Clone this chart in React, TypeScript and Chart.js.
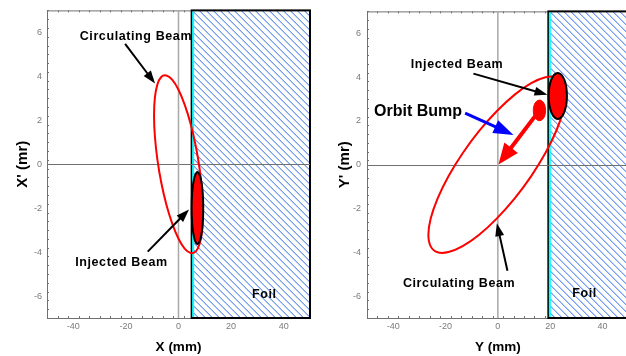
import React, { useEffect, useRef } from "react";
import { Chart, registerables } from "chart.js";

Chart.register(...registerables);

const FONT = "'Liberation Sans', Arial, Helvetica, sans-serif";

// ---- axes ----
const xTickValues = [-40, -20, 0, 20, 40];
const yTickValues = [-6, -4, -2, 0, 2, 4, 6];
const xRange = [-50, 50];
const yRange = [-7, 7];

// ---- left panel: horizontal plane (X, X') ----
const xCircX = [9.30, 8.98, 8.05, 6.58, 4.65, 2.41, 0.00, -2.41, -4.65, -6.58, -8.05, -8.98, -9.30, -8.98, -8.05, -6.58, -4.65, -2.41, 0.00, 2.41, 4.65, 6.58, 8.05, 8.98, 9.30];
const xCircY = [-2.22, -3.03, -3.62, -3.97, -4.04, -3.85, -3.39, -2.69, -1.82, -0.82, 0.23, 1.27, 2.22, 3.03, 3.62, 3.97, 4.04, 3.85, 3.39, 2.69, 1.82, 0.82, -0.23, -1.27, -2.22];
const xInjX = [9.40, 9.33, 9.11, 8.76, 8.30, 7.77, 7.20, 6.63, 6.10, 5.64, 5.29, 5.07, 5.00, 5.07, 5.29, 5.64, 6.10, 6.63, 7.20, 7.77, 8.30, 8.76, 9.11, 9.33, 9.40];
const xInjY = [-2.00, -1.58, -1.18, -0.84, -0.58, -0.42, -0.36, -0.42, -0.58, -0.84, -1.18, -1.58, -2.00, -2.42, -2.82, -3.16, -3.42, -3.58, -3.64, -3.58, -3.42, -3.16, -2.82, -2.42, -2.00];
const xFoil = [5, 50];

// ---- right panel: vertical plane (Y, Y') ----
const yCircX = [25.85, 24.96, 22.34, 18.17, 12.75, 6.44, -0.35, -7.14, -13.45, -18.87, -23.04, -25.66, -26.55, -25.66, -23.04, -18.87, -13.45, -7.14, -0.35, 6.44, 12.75, 18.17, 22.34, 24.96, 25.85];
const yCircY = [3.20, 2.46, 1.55, 0.53, -0.52, -1.54, -2.45, -3.20, -3.72, -3.99, -4.00, -3.73, -3.20, -2.46, -1.55, -0.53, 0.52, 1.54, 2.45, 3.20, 3.72, 3.99, 4.00, 3.73, 3.20];
const yInjX = [26.40, 26.28, 25.93, 25.37, 24.65, 23.81, 22.90, 21.99, 21.15, 20.43, 19.87, 19.52, 19.40, 19.52, 19.87, 20.43, 21.15, 21.99, 22.90, 23.81, 24.65, 25.37, 25.93, 26.28, 26.40];
const yInjY = [3.14, 3.41, 3.67, 3.88, 4.05, 4.15, 4.19, 4.15, 4.05, 3.88, 3.67, 3.41, 3.14, 2.87, 2.62, 2.40, 2.23, 2.13, 2.09, 2.13, 2.23, 2.40, 2.62, 2.87, 3.14];
const bumpX = [18.25, 17.94, 17.08, 15.90, 14.73, 13.86, 13.55, 13.86, 14.73, 15.90, 17.08, 17.94, 18.25];
const bumpY = [2.48, 2.72, 2.89, 2.95, 2.89, 2.72, 2.48, 2.24, 2.07, 2.01, 2.07, 2.24, 2.48];
const yFoil = [19.3, 50];

// ---- annotations (data coordinates) ----
const xLabels = [
  { text: "Circulating Beam", at: [-16.2, 5.83], kind: "note" },
  { text: "Injected Beam", at: [-21.7, -4.47], kind: "note" },
  { text: "Foil", at: [32.6, -5.92], kind: "note" },
];
const xArrows = [
  { from: [-20.3, 5.48], to: [-8.9, 3.67], kind: "black" },
  { from: [-11.7, -3.98], to: [4.0, -2.06], kind: "black" },
];
const yLabels = [
  { text: "Injected Beam", at: [-15.6, 4.58], kind: "note" },
  { text: "Orbit Bump", at: [-30.5, 2.44], kind: "big" },
  { text: "Circulating Beam", at: [-14.8, -5.41], kind: "note" },
  { text: "Foil", at: [33.1, -5.89], kind: "note" },
];
const yArrows = [
  { from: [-9.33, 4.16], to: [18.97, 3.19], kind: "black" },
  { from: [-12.5, 2.36], to: [5.97, 1.36], kind: "blue" },
  { from: [15.9, 2.48], to: [0.23, 0.01], kind: "red" },
  { from: [3.67, -4.84], to: [-0.38, -2.67], kind: "black" },
];

// ---- styles ----
const labelStyles: Record<string, { size: number; spacing: number }> = {
  note: { size: 12.5, spacing: 0.6 },
  big: { size: 16, spacing: 0 },
};
const arrowStyles: Record<string, { color: string; width: number; head: number; headW: number }> = {
  black: { color: "#000000", width: 2, head: 13, headW: 9 },
  blue: { color: "#0000ff", width: 3, head: 20, headW: 14 },
  red: { color: "#ff0000", width: 4, head: 21, headW: 17 },
};

const pts = (xs: number[], ys: number[]) => xs.map((x, i) => ({ x, y: ys[i] }));

function drawArrow(ctx: CanvasRenderingContext2D, x1: number, y1: number, x2: number, y2: number, st: any) {
  const dx = x2 - x1, dy = y2 - y1;
  const L = Math.hypot(dx, dy);
  const ux = dx / L, uy = dy / L;
  const bx = x2 - ux * st.head, by = y2 - uy * st.head;
  ctx.strokeStyle = st.color;
  ctx.lineWidth = st.width;
  ctx.lineCap = "butt";
  ctx.beginPath();
  ctx.moveTo(x1, y1);
  ctx.lineTo(bx + ux, by + uy);
  ctx.stroke();
  ctx.fillStyle = st.color;
  ctx.beginPath();
  ctx.moveTo(x2, y2);
  ctx.lineTo(bx - (uy * st.headW) / 2, by + (ux * st.headW) / 2);
  ctx.lineTo(bx + (uy * st.headW) / 2, by - (ux * st.headW) / 2);
  ctx.closePath();
  ctx.fill();
}

function panelPlugin(p: any) {
  return {
    id: "panelDecor",
    beforeDatasetsDraw(chart: any) {
      const { ctx, chartArea: a, scales } = chart;
      const xs = scales.x, ys = scales.y;
      ctx.save();
      // frame
      ctx.strokeStyle = "#707070";
      ctx.lineWidth = 1;
      ctx.beginPath();
      ctx.moveTo(a.left + 0.5, a.top + 0.5);
      ctx.lineTo(a.left + 0.5, a.bottom + 0.5);
      ctx.lineTo(a.right, a.bottom + 0.5);
      ctx.moveTo(a.left + 0.5, a.top + 0.5);
      ctx.lineTo(a.right, a.top + 0.5);
      ctx.stroke();
      // ticks (inward)
      ctx.beginPath();
      for (let v = xRange[0]; v <= xRange[1] + 1e-6; v += 4) {
        const px = Math.round(xs.getPixelForValue(v)) + 0.5;
        const major = xTickValues.some((t) => Math.abs(t - v) < 1e-6);
        const len = major ? 4 : 2;
        ctx.moveTo(px, a.bottom);
        ctx.lineTo(px, a.bottom - len);
        ctx.moveTo(px, a.top);
        ctx.lineTo(px, a.top + len);
      }
      for (let v = yRange[0]; v <= yRange[1] + 1e-6; v += 0.4) {
        const py = Math.round(ys.getPixelForValue(v)) + 0.5;
        const major = yTickValues.some((t) => Math.abs(t - v) < 1e-6);
        const len = major ? 4 : 2;
        ctx.moveTo(a.left, py);
        ctx.lineTo(a.left + len, py);
      }
      ctx.stroke();

      // foil
      const fx0 = xs.getPixelForValue(p.foil[0]);
      const fx1 = xs.getPixelForValue(p.foil[1]);
      const fy0 = ys.getPixelForValue(yRange[1]);
      const fy1 = ys.getPixelForValue(yRange[0]);
      ctx.fillStyle = "#ffffff";
      ctx.fillRect(fx0, fy0, fx1 - fx0, fy1 - fy0);
      ctx.save();
      ctx.beginPath();
      ctx.rect(fx0, fy0, fx1 - fx0, fy1 - fy0);
      ctx.clip();
      ctx.strokeStyle = "rgb(45,105,230)";
      ctx.lineWidth = 1;
      ctx.beginPath();
      const H = fy1 - fy0;
      for (let sx = fx0 - H; sx < fx1 + 2; sx += 7) {
        ctx.moveTo(sx, fy0);
        ctx.lineTo(sx + H, fy1);
      }
      ctx.stroke();
      ctx.restore();
      ctx.strokeStyle = "#000000";
      ctx.lineWidth = 2;
      ctx.strokeRect(fx0, fy0, fx1 - fx0, fy1 - fy0);
      ctx.strokeStyle = "#00ffff";
      ctx.lineWidth = 2;
      ctx.beginPath();
      ctx.moveTo(fx0 + 1.5, fy0 + 1);
      ctx.lineTo(fx0 + 1.5, fy1 - 1);
      ctx.stroke();

      // origin lines
      const y0 = Math.round(ys.getPixelForValue(0)) + 0.5;
      ctx.strokeStyle = "#707070";
      ctx.lineWidth = 1;
      ctx.beginPath();
      ctx.moveTo(a.left, y0);
      ctx.lineTo(a.right, y0);
      ctx.stroke();
      const x0 = xs.getPixelForValue(0);
      ctx.strokeStyle = "#a8a8a8";
      ctx.lineWidth = 1.5;
      ctx.beginPath();
      ctx.moveTo(x0, a.top);
      ctx.lineTo(x0, a.bottom);
      ctx.stroke();
      ctx.restore();
    },
    afterDatasetsDraw(chart: any) {
      const { ctx, scales } = chart;
      const xs = scales.x, ys = scales.y;
      ctx.save();
      for (const ar of p.arrows) {
        drawArrow(
          ctx,
          xs.getPixelForValue(ar.from[0]),
          ys.getPixelForValue(ar.from[1]),
          xs.getPixelForValue(ar.to[0]),
          ys.getPixelForValue(ar.to[1]),
          arrowStyles[ar.kind]
        );
      }
      ctx.fillStyle = "#000000";
      ctx.textAlign = "center";
      ctx.textBaseline = "middle";
      for (const lb of p.labels) {
        const st = labelStyles[lb.kind];
        ctx.font = `bold ${st.size}px ${FONT}`;
        (ctx as any).letterSpacing = `${st.spacing}px`;
        ctx.fillText(lb.text, xs.getPixelForValue(lb.at[0]), ys.getPixelForValue(lb.at[1]));
      }
      ctx.restore();
    },
  };
}

function makeConfig(p: any): any {
  const datasets: any[] = [
    {
      data: pts(p.injX, p.injY),
      borderColor: "#000000",
      borderWidth: 2,
      backgroundColor: "#ff0000",
      fill: "shape",
      tension: 0.4,
      pointRadius: 0,
      order: 0,
    },
  ];
  if (p.bumpX) {
    datasets.push({
      data: pts(p.bumpX, p.bumpY),
      borderColor: "#ff0000",
      borderWidth: 1,
      backgroundColor: "#ff0000",
      fill: "shape",
      tension: 0.4,
      pointRadius: 0,
      order: 1,
    });
  }
  datasets.push({
    data: pts(p.circX, p.circY),
    borderColor: "#ff0000",
    borderWidth: 2,
    fill: false,
    tension: 0.4,
    pointRadius: 0,
    order: 2,
  });
  return {
    type: "line",
    data: { datasets },
    options: {
      responsive: false,
      animation: false,
      devicePixelRatio: 1,
      events: [],
      layout: { padding: { left: 0, top: 7, right: p.padRight, bottom: 0 } },
      plugins: { legend: { display: false }, tooltip: { enabled: false }, title: { display: false } },
      scales: {
        x: {
          type: "linear",
          min: xRange[0],
          max: xRange[1],
          afterBuildTicks: (s: any) => {
            s.ticks = xTickValues.map((v) => ({ value: v }));
          },
          afterFit: (s: any) => {
            s.height = 38;
          },
          grid: { display: false, drawTicks: false },
          border: { display: false },
          ticks: { color: "#7a7a7a", font: { family: FONT, size: 9 }, padding: 3, maxRotation: 0, autoSkip: false },
          title: {
            display: true,
            text: p.xTitle,
            color: "#000000",
            font: { family: FONT, size: 13.5, weight: "bold" },
            padding: { top: 0, bottom: 1 },
          },
        },
        y: {
          type: "linear",
          min: yRange[0],
          max: yRange[1],
          afterBuildTicks: (s: any) => {
            s.ticks = yTickValues.map((v) => ({ value: v }));
          },
          afterFit: (s: any) => {
            s.width = p.yAxisWidth;
          },
          grid: { display: false, drawTicks: false },
          border: { display: false },
          ticks: { color: "#7a7a7a", font: { family: FONT, size: 9 }, padding: p.yTickPad, autoSkip: false },
          title: {
            display: true,
            text: p.yTitle,
            color: "#000000",
            font: { family: FONT, size: 15, weight: "bold" },
            padding: { top: p.yTitlePad, bottom: 0 },
          },
        },
      },
    },
    plugins: [panelPlugin(p)],
  };
}

const leftPanel = {
  circX: xCircX, circY: xCircY, injX: xInjX, injY: xInjY,
  foil: xFoil, labels: xLabels, arrows: xArrows,
  xTitle: "X (mm)", yTitle: "X' (mr)",
  padRight: 6, yAxisWidth: 47, yTickPad: 5, yTitlePad: 14,
};
const rightPanel = {
  circX: yCircX, circY: yCircY, injX: yInjX, injY: yInjY, bumpX, bumpY,
  foil: yFoil, labels: yLabels, arrows: yArrows,
  xTitle: "Y (mm)", yTitle: "Y' (mr)",
  padRight: 3.3, yAxisWidth: 51, yTickPad: 6, yTitlePad: 20,
};

function Panel({ spec, left }: { spec: any; left: number }) {
  const ref = useRef<HTMLCanvasElement>(null);
  useEffect(() => {
    const chart = new Chart(ref.current as HTMLCanvasElement, makeConfig(spec));
    return () => chart.destroy();
  }, []);
  return (
    <canvas
      ref={ref}
      width={316}
      height={356}
      style={{ position: "absolute", left, top: 0, width: 316, height: 356, display: "block" }}
    />
  );
}

export default function App() {
  return (
    <div
      style={{
        position: "absolute",
        left: 0,
        top: 0,
        width: 626,
        height: 356,
        overflow: "hidden",
        background: "#ffffff",
      }}
    >
      <Panel spec={leftPanel} left={0} />
      <Panel spec={rightPanel} left={316} />
    </div>
  );
}
